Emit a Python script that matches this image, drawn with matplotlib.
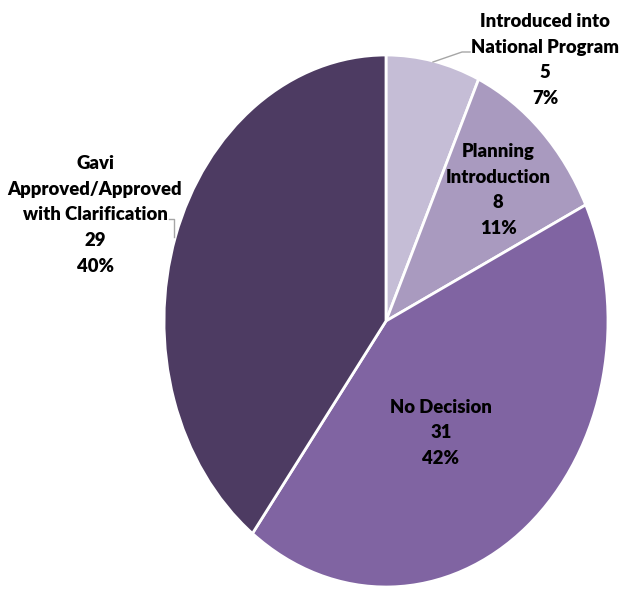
import matplotlib
matplotlib.use("Agg")
import matplotlib.pyplot as plt

# data
categories = ["Introduced into\nNational Program", "Planning\nIntroduction",
              "No Decision", "Gavi\nApproved/Approved\nwith Clarification"]
counts = [5, 8, 31, 29]
colors = ["#C5BDD6", "#A99ABF", "#8064A2", "#4D3B62"]

W, H = 621, 590
cx, cy, rx, ry = 386, 321, 222, 266  # pie centre / radii in pixels

fig = plt.figure(figsize=(W / 100, H / 100), dpi=100)
ax = fig.add_axes([(cx - rx) / W, (H - cy - ry) / H, 2 * rx / W, 2 * ry / H])

ax.pie(counts, colors=colors, startangle=90, counterclock=False,
       wedgeprops=dict(edgecolor="white", linewidth=2))
ax.set_aspect("auto")
ax.set_xlim(-1, 1)
ax.set_ylim(-1, 1)


def px(x, y):
    # pixel position -> data position
    return (x - cx) / rx, (cy - y) / ry


total = sum(counts)
label_pos = [(545, 60), (498, 190), (441, 433), (95, 215)]
font = ["Lato", "DejaVu Sans"]
for name, n, (lx, ly) in zip(categories, counts, label_pos):
    txt = "%s\n%d\n%d%%" % (name, n, round(100 * n / total))
    x, y = px(lx, ly)
    ax.text(x, y, txt, ha="center", va="center", fontsize=13.3,
            fontweight="heavy", family=font, linespacing=1.62,
            color="black", clip_on=False)

# leader lines
lead1 = [px(433, 62), px(462, 52), px(470, 52)]
lead2 = [px(169, 219), px(174, 219), px(174, 237)]
for pts in (lead1, lead2):
    xs, ys = zip(*pts)
    ax.plot(xs, ys, color="#A6A6A6", lw=1, clip_on=False)

fig.savefig("out.png", dpi=100)
